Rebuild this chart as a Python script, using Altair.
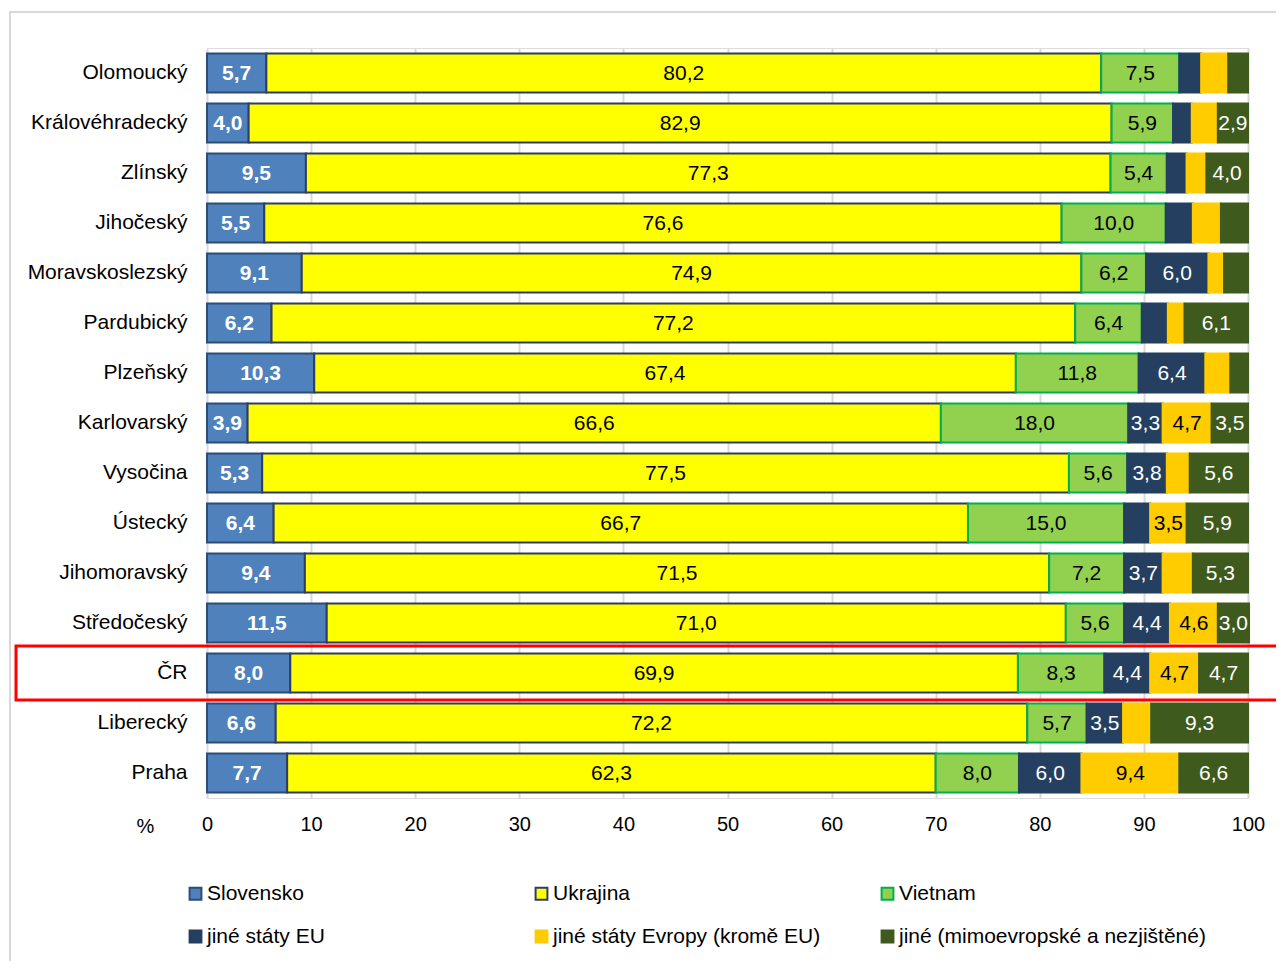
import altair as alt
import pandas as pd

regions = ["Olomoucký", "Královéhradecký", "Zlínský", "Jihočeský", "Moravskoslezský",
           "Pardubický", "Plzeňský", "Karlovarský", "Vysočina", "Ústecký",
           "Jihomoravský", "Středočeský", "ČR", "Liberecký", "Praha"]

series = ["Slovensko", "Ukrajina", "Vietnam", "jiné státy EU",
          "jiné státy Evropy (kromě EU)", "jiné (mimoevropské a nezjištěné)"]

slovensko = [5.7, 4.0, 9.5, 5.5, 9.1, 6.2, 10.3, 3.9, 5.3, 6.4, 9.4, 11.5, 8.0, 6.6, 7.7]
ukrajina = [80.2, 82.9, 77.3, 76.6, 74.9, 77.2, 67.4, 66.6, 77.5, 66.7, 71.5, 71.0, 69.9, 72.2, 62.3]
vietnam = [7.5, 5.9, 5.4, 10.0, 6.2, 6.4, 11.8, 18.0, 5.6, 15.0, 7.2, 5.6, 8.3, 5.7, 8.0]
jine_eu = [2.1, 1.8, 1.9, 2.6, 6.0, 2.5, 6.4, 3.3, 3.8, 2.5, 3.7, 4.4, 4.4, 3.5, 6.0]
jine_evropa = [2.6, 2.5, 1.9, 2.7, 1.5, 1.6, 2.4, 4.7, 2.2, 3.5, 2.9, 4.6, 4.7, 2.7, 9.4]
jine = [1.9, 2.9, 4.0, 2.6, 2.3, 6.1, 1.7, 3.5, 5.6, 5.9, 5.3, 3.0, 4.7, 9.3, 6.6]

# which segments carry a data label (1 = labelled)
slovensko_lbl = [1] * 15
ukrajina_lbl = [1] * 15
vietnam_lbl = [1] * 15
jine_eu_lbl = [0, 0, 0, 0, 1, 0, 1, 1, 1, 0, 1, 1, 1, 1, 1]
jine_evropa_lbl = [0, 0, 0, 0, 0, 0, 0, 1, 0, 1, 0, 1, 1, 0, 1]
jine_lbl = [0, 1, 1, 0, 0, 1, 0, 1, 1, 1, 1, 1, 1, 1, 1]

fills = ["#4F81BD", "#FFFF00", "#92D050", "#243F60", "#FFCC00", "#3E5A1C"]
strokes = ["#2C4D75", "#2F3D66", "#00B050", "#243F60", "#FFCC00", "#3E5A1C"]
text_colors = ["white", "black", "black", "white", "black", "white"]

all_vals = [slovensko, ukrajina, vietnam, jine_eu, jine_evropa, jine]
all_lbls = [slovensko_lbl, ukrajina_lbl, vietnam_lbl, jine_eu_lbl, jine_evropa_lbl, jine_lbl]

rows = []
for si, name in enumerate(series):
    for ri, reg in enumerate(regions):
        rows.append(dict(region=reg, series=name, ord=si, value=all_vals[si][ri],
                         show=all_lbls[si][ri], tcolor=text_colors[si]))
df = pd.DataFrame(rows)

FONT = "Liberation Sans"

base = alt.Chart(df).transform_stack(
    stack="value", groupby=["region"], sort=[alt.SortField("ord", order="ascending")],
    as_=["x0", "x1"]
).transform_calculate(
    mid="(datum.x0 + datum.x1) / 2",
    lbl="replace(format(datum.value, '.1f'), '.', ',')"
)

yenc = alt.Y("region:N", sort=regions,
             scale=alt.Scale(paddingInner=0.22, paddingOuter=0.11),
             axis=alt.Axis(title=None, labelFontSize=21, labelPadding=20, ticks=False,
                           domain=False, labelColor="black", labelFont=FONT, labelLimit=300))

leg = alt.Legend(title=None, orient="none", legendX=-22, legendY=835, columns=3,
                 direction="horizontal", gridAlign="all", columnPadding=17, rowPadding=21,
                 labelFontSize=21, labelFont=FONT, labelColor="black", labelLimit=500,
                 symbolType="square", symbolSize=140, symbolStrokeWidth=2, labelOffset=1,
                 padding=0)

bars = base.mark_bar(strokeWidth=2).encode(
    x=alt.X("x0:Q", scale=alt.Scale(domain=[0, 100], nice=False),
            axis=alt.Axis(values=list(range(0, 101, 10)), title="%", grid=True,
                          gridColor="#d9d9d9", gridWidth=2, domain=False, ticks=False,
                          labelFontSize=20, labelFont=FONT, labelColor="black", labelPadding=16,
                          labelFlush=False,
                          titleX=-62, titleY=28, titleFontSize=20, titleFont=FONT,
                          titleFontWeight="normal", titleBaseline="middle", titleAlign="center",
                          titleColor="black")),
    x2="x1:Q",
    y=yenc,
    fill=alt.Fill("series:N", scale=alt.Scale(domain=series, range=fills), legend=leg),
    stroke=alt.Stroke("series:N", scale=alt.Scale(domain=series, range=strokes), legend=leg),
)

txt_bold = base.transform_filter("datum.show == 1 && datum.ord == 0").mark_text(
    fontSize=21, font=FONT, fontWeight="bold", dy=1).encode(
    x="mid:Q", y=yenc, text="lbl:N", color=alt.Color("tcolor:N", scale=None))

txt = base.transform_filter("datum.show == 1 && datum.ord > 0").mark_text(
    fontSize=21, font=FONT, dy=1).encode(
    x="mid:Q", y=yenc, text="lbl:N", color=alt.Color("tcolor:N", scale=None))

frame = alt.Chart(pd.DataFrame({"a": [0]})).mark_rect(
    fillOpacity=0, stroke="#d9d9d9", strokeWidth=2).encode(
    x=alt.value(-197), x2=alt.value(1200), y=alt.value(-36), y2=alt.value(1000))

redbox = alt.Chart(pd.DataFrame({"region": ["ČR"]})).mark_bar(
    size=54, fillOpacity=0, stroke="#FF0000", strokeWidth=3).encode(
    y=alt.Y("region:N", sort=regions), x=alt.value(-191), x2=alt.value(1090))

chart = alt.layer(frame, bars, txt_bold, txt, redbox).properties(
    width=1041, height=750,
    autosize=alt.AutoSizeParams(type="none"),
    padding={"left": 199, "top": 40, "right": 28, "bottom": 163},
).configure_view(stroke=None).configure(background="white")

chart.save("out.html", embed_options={"renderer": "svg", "actions": False})
